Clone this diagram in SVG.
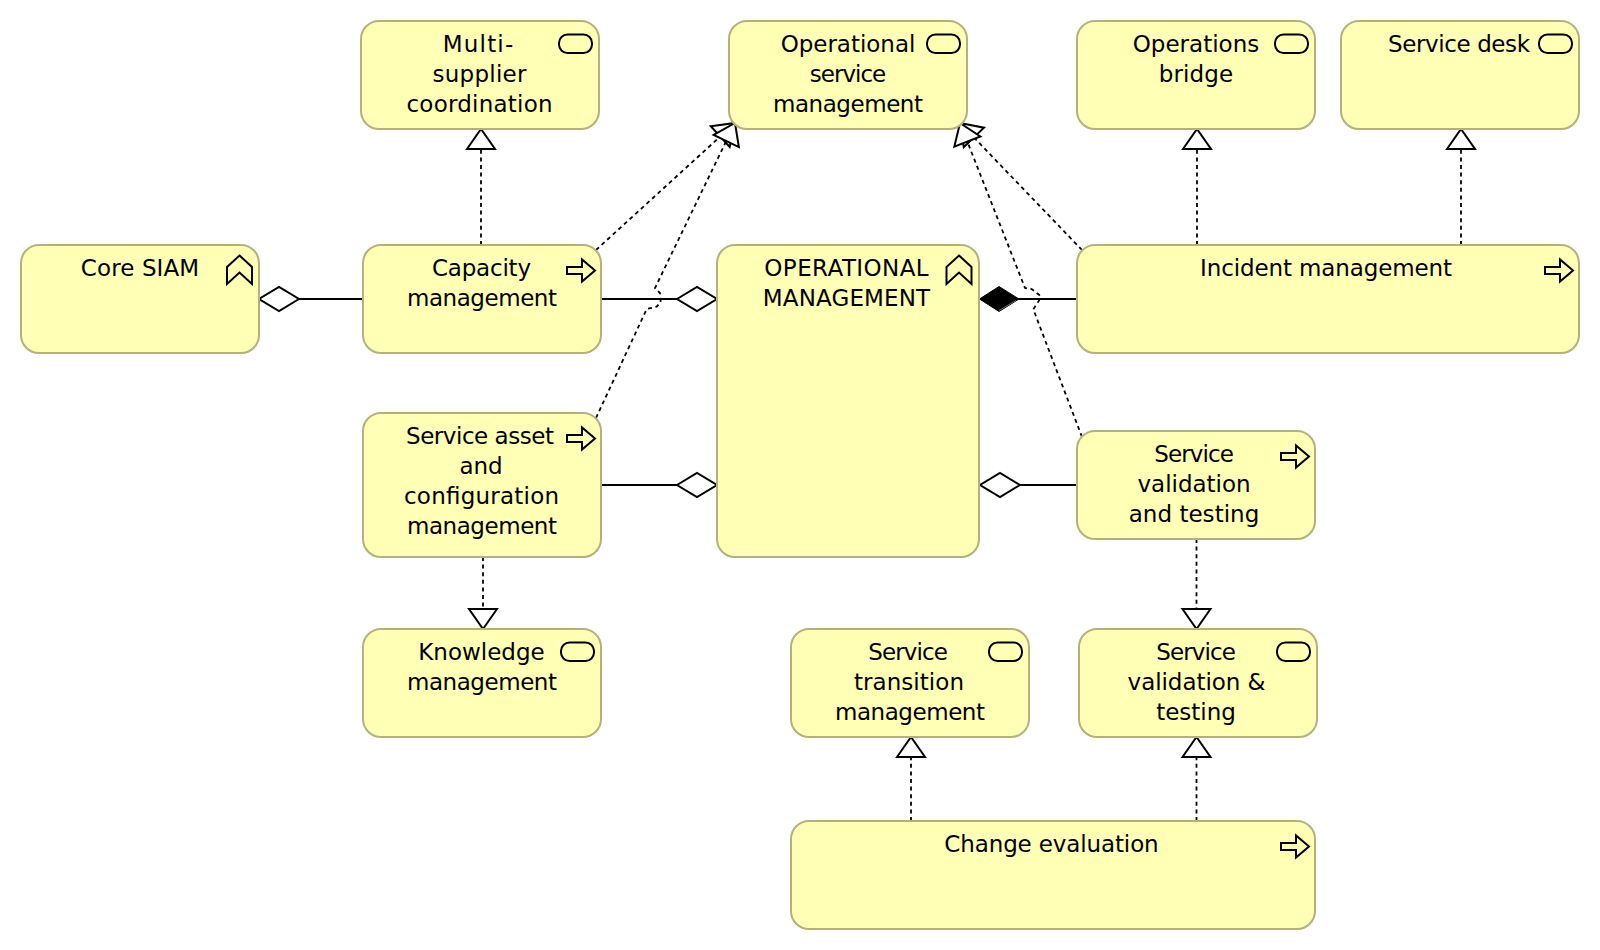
<svg xmlns="http://www.w3.org/2000/svg" width="1600" height="950" viewBox="0 0 1600 950">
<style>
.box{fill:#ffffb5;stroke:#b2b27e;stroke-width:2}
.ico{fill:none;stroke:#000;stroke-width:2;stroke-linejoin:miter}
text{font-family:"DejaVu Sans",sans-serif;font-size:23px;fill:#000;text-anchor:middle}
.solid{fill:none;stroke:#000;stroke-width:2}
.dash{fill:none;stroke:#000;stroke-width:1.800;stroke-dasharray:4 3.600;marker-end:url(#tri)}
</style>
<defs>
<marker id="tri" markerUnits="userSpaceOnUse" markerWidth="24" markerHeight="32" refX="22" refY="16" orient="auto" viewBox="0 0 24 32" overflow="visible"><path d="M2 2L22 16L2 30Z" fill="#fff" stroke="#000" stroke-width="2"/></marker>
<marker id="dia" markerUnits="userSpaceOnUse" markerWidth="44" markerHeight="28" refX="42" refY="14" orient="auto" viewBox="0 0 44 28" overflow="visible"><path d="M2 14L22 2L42 14L22 26Z" fill="#fff" stroke="#000" stroke-width="2"/></marker>
<rect id="svc" x="-33" y="0" width="33" height="18.500" rx="8.500" ry="8.500" class="ico"/>
<path id="proc" class="ico" d="M-28 7H-13V-0.500L0 10.500L-13 21.500V14H-28Z"/>
<path id="cap" class="ico" d="M0 0L12.500 11.500V28.500L0 17L-12.500 28.500V11.500Z"/>
</defs>

<g id="connectors">
<path class="solid" d="M363 299H259" marker-end="url(#dia)"/>
<path class="solid" d="M601 299H680"/>
<path class="solid" d="M601 485H680"/>
<path class="solid" d="M1077 485H980" marker-end="url(#dia)"/>
<path class="solid" d="M1077 299H1015"/>
<path class="dash" d="M481 245V129"/>
<path class="dash" d="M1197 245V129"/>
<path class="dash" d="M1461 245V129"/>
<path class="dash" d="M483 557V629"/>
<path class="dash" d="M1196.500 539V629"/>
<path class="dash" d="M911 821V737"/>
<path class="dash" d="M1196.500 821V737"/>
<path class="dash" d="M596 250L735 123"/>
<path class="dash" d="M596 418L646.700 309L656.700 306.700L660.700 302L660 293L655 288L735 123"/>
<path class="dash" d="M1082 250L960 123"/>
<path class="dash" d="M1082 437L1033.300 309.300L1039 300.700L1039.300 295L1031.700 289L1025 288L960 123"/>
<path d="M677 299L697 287L717 299L697 311Z" fill="#fff" stroke="#000" stroke-width="2"/>
<path d="M677 485L697 473L717 485L697 497Z" fill="#fff" stroke="#000" stroke-width="2"/>
<path d="M979.500 299L999 286.500L1019 299L999 311.500Z" fill="#000" stroke="#000" stroke-width="1"/>
<path d="M999 310.500L1016 300.500" stroke="#888" stroke-width="0.800" fill="none"/>
</g>

<g id="n-multi"><rect class="box" x="361" y="21" width="238" height="108" rx="18"/><use href="#svc" x="592" y="34.500"/><text x="478" y="52" textLength="70.400">Multi-</text><text x="479.500" y="82" textLength="94">supplier</text><text x="479.500" y="112" textLength="146">coordination</text></g>
<g id="n-opsvc"><rect class="box" x="729" y="21" width="238" height="108" rx="18"/><use href="#svc" x="960" y="34.500"/><text x="848" y="52" textLength="134.700">Operational</text><text x="848" y="82" textLength="76.500">service</text><text x="848" y="112" textLength="150">management</text></g>
<g id="n-bridge"><rect class="box" x="1077" y="21" width="238" height="108" rx="18"/><use href="#svc" x="1308" y="34.500"/><text x="1196" y="52" textLength="126.500">Operations</text><text x="1196" y="82" textLength="74.500">bridge</text></g>
<g id="n-desk"><rect class="box" x="1341" y="21" width="238" height="108" rx="18"/><use href="#svc" x="1572" y="34.500"/><text x="1459" y="52" textLength="142">Service desk</text></g>
<g id="n-core"><rect class="box" x="21" y="245" width="238" height="108" rx="18"/><use href="#cap" x="239.500" y="255.500"/><text x="140" y="276" textLength="118.400">Core SIAM</text></g>
<g id="n-capacity"><rect class="box" x="363" y="245" width="238" height="108" rx="18"/><use href="#proc" x="595" y="260"/><text x="481.500" y="276" textLength="99">Capacity</text><text x="482" y="306" textLength="150">management</text></g>
<g id="n-opmgmt"><rect class="box" x="717" y="245" width="262" height="312" rx="18"/><use href="#cap" x="959" y="255.500"/><text x="846.500" y="276" textLength="164.300">OPERATIONAL</text><text x="846.500" y="306" textLength="167.300">MANAGEMENT</text></g>
<g id="n-incident"><rect class="box" x="1077" y="245" width="502" height="108" rx="18"/><use href="#proc" x="1573" y="260"/><text x="1326" y="276" textLength="252">Incident management</text></g>
<g id="n-asset"><rect class="box" x="363" y="413" width="238" height="144" rx="18"/><use href="#proc" x="595" y="428"/><text x="480" y="444" textLength="148">Service asset</text><text x="481" y="474" textLength="43">and</text><text x="481.500" y="504" textLength="155">configuration</text><text x="482" y="534" textLength="150">management</text></g>
<g id="n-valtest"><rect class="box" x="1077" y="431" width="238" height="108" rx="18"/><use href="#proc" x="1309" y="446"/><text x="1194" y="462" textLength="79.600">Service</text><text x="1194" y="492" textLength="113">validation</text><text x="1194" y="522" textLength="130.600">and testing</text></g>
<g id="n-knowledge"><rect class="box" x="363" y="629" width="238" height="108" rx="18"/><use href="#svc" x="594" y="642.500"/><text x="481.500" y="660" textLength="126.500">Knowledge</text><text x="482" y="690" textLength="150">management</text></g>
<g id="n-transition"><rect class="box" x="791" y="629" width="238" height="108" rx="18"/><use href="#svc" x="1022" y="642.500"/><text x="908" y="660" textLength="79.600">Service</text><text x="909" y="690" textLength="110">transition</text><text x="910" y="720" textLength="150">management</text></g>
<g id="n-valsvc"><rect class="box" x="1079" y="629" width="238" height="108" rx="18"/><use href="#svc" x="1310" y="642.500"/><text x="1196" y="660" textLength="79.600">Service</text><text x="1196.500" y="690" textLength="137.800">validation &amp;</text><text x="1196" y="720" textLength="79.600">testing</text></g>
<g id="n-change"><rect class="box" x="791" y="821" width="524" height="108" rx="18"/><use href="#proc" x="1309" y="836"/><text x="1051.500" y="852" textLength="214.300">Change evaluation</text></g>
</svg>
